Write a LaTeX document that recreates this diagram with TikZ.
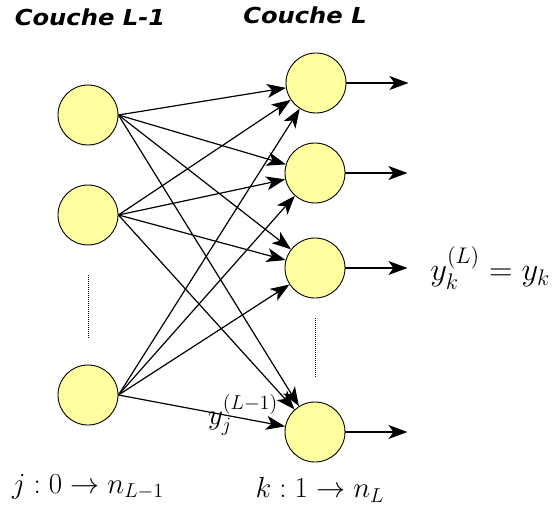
\documentclass[tikz,border=0pt]{standalone}
\usepackage{amsmath, amssymb}
\usepackage{xcolor}
\usepackage{fontspec}
\usepackage{tikz}
\usetikzlibrary{arrows.meta}
\newfontfamily\headfont{DejaVu Sans}
\definecolor{neurone}{RGB}{255,255,160}

\begin{document}
\begin{tikzpicture}[x=1pt, y=-1pt,
  nr/.style={draw, circle, fill=neurone, minimum size=60pt, inner sep=0pt, line width=0.9pt},
  hd/.style={font=\headfont\bfseries\itshape\fontsize{22}{24}\selectfont, xscale=1.1},
  lb/.style={font=\fontsize{20}{22}\selectfont, inner sep=0pt, scale=1.4},
  ar/.style={-{Stealth[length=19pt, width=14pt, inset=5pt]}, line width=1.2pt}]
\useasboundingbox (0,0) rectangle (554,508);
\node[hd] (cL1) at (90,17) {Couche L-1};
\node[hd] (cL) at (305,15) {Couche L};
% couche L-1
\node[nr] (l1) at (88,115) {};
\node[nr] (l2) at (88,215) {};
\node[nr] (l3) at (88,395) {};
% couche L
\node[nr] (r1) at (316,83) {};
\node[nr] (r2) at (315,173) {};
\node[nr] (r3) at (315,268) {};
\node[nr] (r4) at (315,432) {};
\foreach \i in {1,2,3}
  \foreach \k in {1,2,3,4}
    \draw[ar] (l\i.east)--(r\k);
\foreach \k in {1,2,3,4} {
  \coordinate (o\k) at ([xshift=62pt]r\k.east);
  \draw[ar] (r\k.east)--(o\k);
}
\coordinate (d1) at (88,275); \coordinate (d2) at (88,338);
\coordinate (d3) at (315,318); \coordinate (d4) at (315,378);
\draw[densely dotted, line width=1pt] (d1)--(d2);
\draw[densely dotted, line width=1pt] (d3)--(d4);
\node[lb, anchor=west, scale=1.12] (yk) at (430,268) {$y_k^{(L)} = y_k$};
\node[lb] (yj) at (243,415) {$y_j^{(L-1)}$};
\node[lb] (jr) at (88,487) {$j : 0 \rightarrow n_{L-1}$};
\node[lb] (kr) at (320,490) {$k : 1 \rightarrow n_L$};
\end{tikzpicture}
\end{document}
